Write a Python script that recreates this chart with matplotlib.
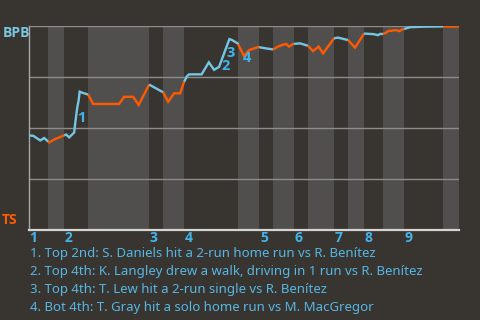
import numpy as np
import matplotlib
matplotlib.use("Agg")
import matplotlib.pyplot as plt
from matplotlib.transforms import blended_transform_factory

# ---------------- data ----------------
team_top = "BPB"
team_bottom = "TS"

# half-inning boundaries along the game-progress axis
half_bounds = [0, 19.5, 35.5, 59.5, 120.5, 134.5, 155.5, 209.5, 230.5, 244.5,
               265.5, 279.5, 305.5, 319.5, 335.5, 354.5, 375.5, 414.5, 430.5]
innings = ["1", "2", "3", "4", "5", "6", "7", "8", "9"]

# win probability for BPB (0..1) along game progress
prog = [0.2, 4.5, 11.5, 15.5, 20.5, 26.5, 34.5, 37.5, 40.5, 45.5, 46.5, 48.5,
        50.0, 51.0, 53.5, 59.5, 64.5, 90.5, 95.5, 104.5, 110.0, 120.5, 134.5,
        139.5, 145.5, 151.5, 155.5, 158.5, 160.5, 173.0, 180.2, 185.5, 190.5,
        200.8, 203.5, 209.0, 215.5, 220.5, 229.5, 236.5, 244.5, 249.5, 253.5,
        257.5, 260.5, 264.5, 271.5, 273.5, 279.5, 284.5, 290.0, 294.5, 305.5,
        309.5, 319.5, 326.5, 335.5, 345.0, 349.5, 351.5, 354.5, 357.5, 359.5,
        367.5, 370.5, 374.5, 381.5, 395.5, 414.5, 429.5, 430.5]
wp = [0.463, 0.462, 0.439, 0.451, 0.429, 0.446, 0.462, 0.468, 0.454, 0.478,
      0.522, 0.598, 0.637, 0.678, 0.673, 0.664, 0.618, 0.618, 0.653, 0.653,
      0.613, 0.713, 0.675, 0.629, 0.670, 0.670, 0.727, 0.755, 0.763, 0.763,
      0.822, 0.785, 0.800, 0.936, 0.931, 0.915, 0.853, 0.882, 0.897, 0.891,
      0.885, 0.899, 0.907, 0.912, 0.899, 0.912, 0.915, 0.912, 0.903, 0.877,
      0.899, 0.866, 0.940, 0.943, 0.931, 0.894, 0.963, 0.960, 0.955, 0.961,
      0.961, 0.967, 0.975, 0.980, 0.975, 0.984, 0.994, 0.997, 0.998, 0.998,
      1.000]

# key events: label, progress, win prob (anchor of the label)
event_ids = ["1", "2", "3", "4"]
event_prog = [52.5, 197.3, 202.3, 218.2]
event_wp = [0.547, 0.802, 0.866, 0.841]
event_texts = [
    "1. Top 2nd: S. Daniels hit a 2-run home run vs R. Benítez",
    "2. Top 4th: K. Langley drew a walk, driving in 1 run vs R. Benítez",
    "3. Top 4th: T. Lew hit a 2-run single vs R. Benítez",
    "4. Bot 4th: T. Gray hit a solo home run vs M. MacGregor",
]

# ---------------- style ----------------
BG = "#383531"
BAND_LIGHT = "#514f4d"
BLUE_LINE = "#74c6e4"
ORANGE = "#ff5a00"
LABEL_BLUE = "#42b4ea"
TEXT_BLUE = "#56b6e4"
GRID = "#8e8c8a"
BOLD_FONT = ['Open Sans', 'DejaVu Sans']
TEXT_FONT = ['Noto Sans', 'DejaVu Sans']

plt.rcParams['font.family'] = TEXT_FONT

fig = plt.figure(figsize=(4.8, 3.2), dpi=100, facecolor=BG)
ax = fig.add_axes([28.7 / 480, 1 - 230 / 320, (459 - 28.7) / 480, 204 / 320])
ax.set_facecolor(BG)
ax.set_xlim(half_bounds[0], half_bounds[-1])
ax.set_ylim(0, 1)

# bands for bottom halves
for i in range(1, len(half_bounds) - 1, 2):
    ax.axvspan(half_bounds[i], half_bounds[i + 1], color=BAND_LIGHT, lw=0, zorder=0)

# grid
for g in [0.25, 0.5, 0.75, 1.0]:
    ax.axhline(g, color=GRID, lw=1.0, zorder=1)

for s in ["top", "right"]:
    ax.spines[s].set_visible(False)
ax.spines["left"].set_color("#a8a6a4")
ax.spines["left"].set_linewidth(1.0)
ax.spines["bottom"].set_color("#d6d4d2")
ax.spines["bottom"].set_linewidth(1.6)
ax.set_xticks([])
ax.set_yticks([])

# line colored by half inning
x = np.array(prog)
y = np.array(wp)
allx = np.unique(np.concatenate([x, half_bounds]))
ally = np.interp(allx, x, y)
for i in range(len(half_bounds) - 1):
    lo, hi = half_bounds[i], half_bounds[i + 1]
    m = (allx >= lo) & (allx <= hi)
    col = BLUE_LINE if i % 2 == 0 else ORANGE
    ax.plot(allx[m], ally[m], color=col, lw=1.7, zorder=3,
            solid_capstyle="butt", solid_joinstyle="miter")

# event labels
for lab, ex, ey in zip(event_ids, event_prog, event_wp):
    ax.text(ex, ey, lab, color=LABEL_BLUE, fontsize=10.5, fontweight="bold",
            family=BOLD_FONT, ha="center", va="center", zorder=4)

# inning labels
tr = blended_transform_factory(ax.transData, ax.transAxes)
for k, lab in enumerate(innings):
    ax.text(half_bounds[2 * k] + 0.8, -0.037, lab, transform=tr, color=LABEL_BLUE,
            fontsize=10, fontweight="bold", family=BOLD_FONT,
            ha="left", va="center", clip_on=False)

# team labels
fig.text(3 / 480, 1 - 33 / 320, team_top, color="#7cc6e2", fontsize=10,
         fontweight="bold", family=BOLD_FONT, ha="left", va="center")
fig.text(2 / 480, 1 - 220 / 320, team_bottom, color=ORANGE, fontsize=10,
         fontweight="bold", family=BOLD_FONT, ha="left", va="center")

# event list
for j, t in enumerate(event_texts):
    fig.text(30 / 480, 1 - (254 + 18 * j) / 320, t, color=TEXT_BLUE,
             fontsize=9.5, ha="left", va="center")

fig.savefig("out.png", dpi=100, facecolor=BG)
